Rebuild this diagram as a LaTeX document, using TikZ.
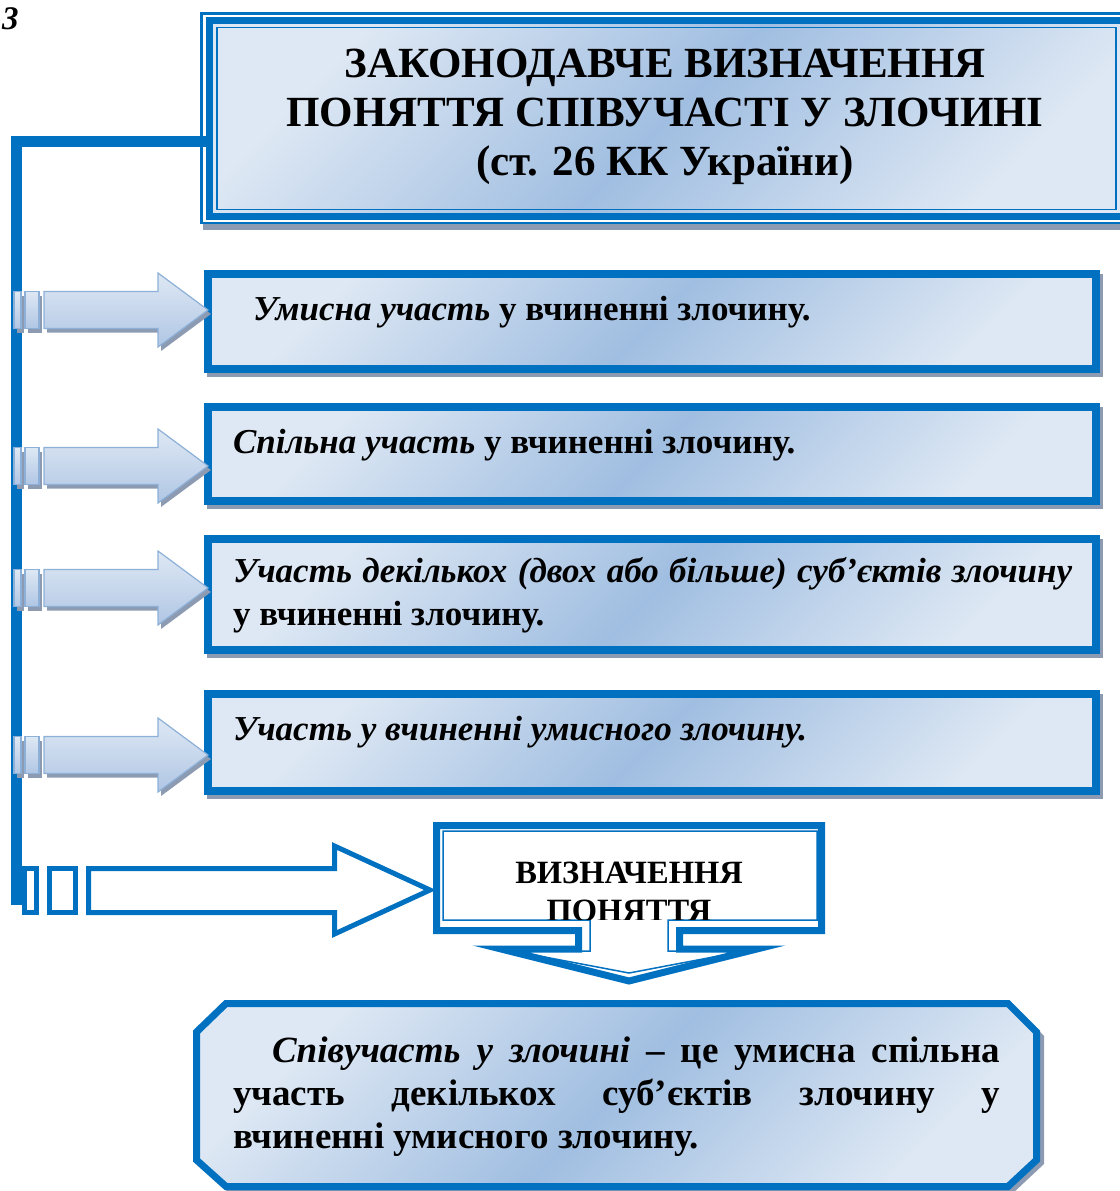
\documentclass[tikz,border=0pt]{standalone}
\usepackage{fontspec}
\setmainfont{Liberation Serif}
\definecolor{mainblue}{RGB}{0,112,192}
\definecolor{lightfill}{RGB}{222,232,244}
\definecolor{darkfill}{RGB}{160,190,225}
\definecolor{shadowc}{RGB}{140,155,178}
\definecolor{arrowline}{RGB}{140,176,216}
\definecolor{arrowdark}{RGB}{176,198,228}
\pgfdeclarelayer{bg}
\pgfsetlayers{bg,main}
\newcommand{\lightarr}[3]{%
 \path[#3] ([shift={#2}]#1) -- ++(-50,-37) -- ++(0,18.5) -- ++(-114,0) -- ++(0,37) -- ++(114,0) -- ++(0,18.5) -- cycle;
 \path[#3] ([shift={#2}]#1) ++(-183,-18.5) rectangle ++(14,37);
 \path[#3] ([shift={#2}]#1) ++(-194,-18.5) rectangle ++(7,37);
}
\begin{document}
\begin{tikzpicture}[x=1pt,y=-1pt,
  boxfill/.style={top color=lightfill, bottom color=lightfill, middle color=darkfill, shading angle=45},
  itembox/.style={rectangle, draw=mainblue, line width=8pt, boxfill, inner sep=0pt, outer sep=0pt, minimum width=888pt},
  arrowshade/.style={draw=arrowline, line width=1.2pt, top color=lightfill, bottom color=arrowdark},
  titlefont/.style={font=\fontsize{43}{50}\selectfont\bfseries},
  bodyfont/.style={font=\fontsize{35}{42}\selectfont\bfseries},
  octfont/.style={font=\fontsize{37}{43}\selectfont\bfseries},
  txt/.style={anchor=base west, inner sep=0pt, outer sep=0pt, bodyfont},
  otxt/.style={anchor=base west, inner sep=0pt, outer sep=0pt, octfont},
  thickblue/.style={draw=mainblue, line width=7pt, line join=miter},
  thinblue/.style={draw=mainblue, line width=1.5pt}
]
\useasboundingbox (0,0) rectangle (1119,1191);

% number
\node[anchor=base west, inner sep=0pt, font=\fontsize{33}{38}\selectfont\bfseries\itshape] (num) at (2,29) {3};

% ---------- title box ----------
\fill[shadowc] (203,219) rectangle (1130,230);
\draw[mainblue, line width=2.5pt, fill=white] (201.5,13.5) rectangle (1130,223);
\node[rectangle, draw=mainblue, line width=7pt, boxfill, inner sep=0pt, outer sep=0pt,
      minimum width=920.5pt, minimum height=196pt] (title) at (669.75,118.5) {};
\draw[thinblue] (217,27.5) rectangle (1116,209.5);
\node[titlefont, anchor=base, inner sep=0pt] (t1) at (665,77) {ЗАКОНОДАВЧЕ ВИЗНАЧЕННЯ};
\node[titlefont, anchor=base, inner sep=0pt] (t2) at (665,126) {ПОНЯТТЯ СПІВУЧАСТІ У ЗЛОЧИНІ};
\node[titlefont, anchor=base, inner sep=0pt] (t3) at (665,175) {(ст. 26 КК України)};

% ---------- item boxes ----------
\node[itembox, minimum height=95pt] (b1) at (652,321.5) {};
\node[itembox, minimum height=94pt] (b2) at (652,454) {};
\node[itembox, minimum height=111pt] (b3) at (652,594.5) {};
\node[itembox, minimum height=97pt] (b4) at (652,742.5) {};
\begin{pgfonlayer}{bg}
 \foreach \b in {b1,b2,b3,b4}
  \fill[shadowc] ([shift={(-1,0)}]\b.north west) rectangle ([shift={(7,8)}]\b.south east);
\end{pgfonlayer}

\node[txt] (x1) at (253,320) {{\itshape Умисна участь} у вчиненні злочину.};
\node[txt] (x2) at (233,453) {{\itshape Спільна участь} у вчиненні злочину.};
\node[txt] (x3a) at (233,582) {\hbox to 839pt{\itshape Участь декількох (двох або більше) суб’єктів злочину}};
\node[txt] (x3b) at (233,625) {у вчиненні злочину.};
\node[txt] (x4) at (233,740) {\itshape Участь у вчиненні умисного злочину.};

% ---------- trunk line ----------
\coordinate (trunkend) at (16,905);
\draw[mainblue, line width=11pt] ([yshift=-23pt]title.west) -| (trunkend);

% ---------- light arrows ----------
\coordinate (a1) at (b1.west |- 0,310);
\coordinate (a2) at (b2.west |- 0,466);
\coordinate (a3) at (b3.west |- 0,588);
\coordinate (a4) at (b4.west |- 0,755);
\foreach \a in {a1,a2,a3,a4}{
  \lightarr{\a}{(3,4)}{fill=shadowc}
  \lightarr{\a}{(0,0)}{arrowshade}
}

% ---------- definition box ----------
\node[rectangle, inner sep=0pt, outer sep=0pt, minimum width=385pt, minimum height=105pt] (def) at (629,878) {};
\draw[thickblue, fill=white] (def.north west) -- (def.north east) -- (def.south east) -- (679.5,930.5) -- (679.5,949) -- (757,949) -- (629,981) -- (501,949) -- (578.5,949) -- (578.5,930.5) -- (def.south west) -- cycle;
\draw[thinblue] (443,831) -- (817,831) -- (817,920) -- (668,920) -- (668,951) -- (745,951) -- (629,973) -- (513,951) -- (590,951) -- (590,920) -- (443,920) -- cycle;
\begin{scope}
 \clip (443,831) rectangle (817,919);
 \node[anchor=base, inner sep=0pt, font=\fontsize{32.5}{38}\selectfont\bfseries] (d1) at (629,883) {ВИЗНАЧЕННЯ};
 \node[anchor=base, inner sep=0pt, font=\fontsize{32.5}{38}\selectfont\bfseries] (d2) at (629,921) {ПОНЯТТЯ};
\end{scope}

% ---------- hollow arrow ----------
\coordinate (ha) at (def.west |- 0,890);
\draw[mainblue, line width=5pt, fill=white, line join=miter] ([xshift=-6.5pt]ha) -- (334.5,846) -- (334.5,868.5) -- (88.5,868.5) -- (88.5,912.5) -- (334.5,912.5) -- (334.5,934) -- cycle;
\draw[mainblue, line width=5pt, fill=white] (49.5,868.5) rectangle (75.5,912.5);
\draw[mainblue, line width=5pt, fill=white] (24.5,868.5) rectangle (36.5,912.5);

% ---------- bottom octagon ----------
\fill[shadowc, shift={(4,4)}] (226,1000) -- (1008,1000) -- (1040,1032) -- (1040,1160) -- (1008,1190) -- (226,1190) -- (193,1160) -- (193,1032) -- cycle;
\draw[thickblue, boxfill] (226,1003.5) -- (1008,1003.5) -- (1036.5,1032) -- (1036.5,1160) -- (1008,1186.5) -- (226,1186.5) -- (196.5,1160) -- (196.5,1032) -- cycle;
\node[otxt] (o1) at (272,1062) {\hbox to 728pt{{\itshape Співучасть у злочині} – це умисна спільна}};
\node[otxt] (o2) at (233,1105) {\hbox to 767pt{участь декількох суб’єктів злочину у}};
\node[otxt] (o3) at (233,1148) {вчиненні умисного злочину.};
\end{tikzpicture}
\end{document}
